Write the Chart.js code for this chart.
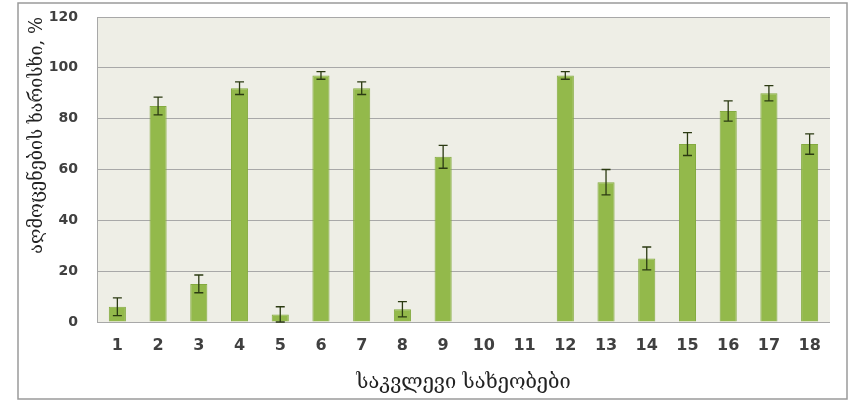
<!DOCTYPE html>
<html>
<head>
<meta charset="utf-8">
<script src="https://cdn.jsdelivr.net/npm/chart.js@4"></script>
<style>
  html, body { margin: 0; padding: 0; background: #ffffff; }
  #wrap { width: 852px; height: 401px; position: relative; }
</style>
</head>
<body>
<div id="wrap"><canvas id="c"></canvas></div>
<script>
// species numbers on the x axis
const species = ['1','2','3','4','5','6','7','8','9','10','11','12','13','14','15','16','17','18'];
// germination rate, %
const germination = [6, 85, 15, 92, 3, 97, 92, 5, 65, 0, 0, 97, 55, 25, 70, 83, 90, 70];
// standard error for each species, %
const errors = [3.5, 3.5, 3.5, 2.5, 3, 1.5, 2.5, 3, 4.5, 0, 0, 1.5, 5, 4.5, 4.5, 4, 3, 4];
// value axis ticks
const yTicks = [0, 20, 40, 60, 80, 100, 120];

const yTitle = 'აღმოცენების ხარისხი, %';
const xTitle = 'საკვლევი სახეობები';

// grey plot background
const plotBackground = {
  id: 'plotBackground',
  beforeDraw(chart) {
    const { ctx, chartArea: a } = chart;
    ctx.save();
    ctx.fillStyle = '#eeeee6';
    ctx.fillRect(a.left, a.top, a.right - a.left, a.bottom - a.top);
    ctx.restore();
  }
};

// error bars with caps, placed through the chart's scales
const errorBars = {
  id: 'errorBars',
  afterDatasetsDraw(chart) {
    const { ctx } = chart;
    const meta = chart.getDatasetMeta(0);
    const y = chart.scales.y;
    ctx.save();
    ctx.strokeStyle = '#2b3a12';
    ctx.lineWidth = 1.3;
    meta.data.forEach((bar, i) => {
      const v = germination[i], e = errors[i];
      if (!e) return;
      const x = bar.x;
      const yTop = y.getPixelForValue(v + e);
      const yBot = y.getPixelForValue(Math.max(0, v - e));
      ctx.beginPath();
      ctx.moveTo(x, yTop); ctx.lineTo(x, yBot);
      ctx.moveTo(x - 4.5, yTop); ctx.lineTo(x + 4.5, yTop);
      ctx.moveTo(x - 4.5, yBot); ctx.lineTo(x + 4.5, yBot);
      ctx.stroke();
    });
    ctx.restore();
  }
};

// thin frame around the whole chart
const outerFrame = {
  id: 'outerFrame',
  afterDraw(chart) {
    const { ctx } = chart;
    ctx.save();
    ctx.strokeStyle = '#9a9a9a';
    ctx.lineWidth = 1.5;
    ctx.strokeRect(18, 3, 829, 396);
    ctx.restore();
  }
};

new Chart(document.getElementById('c'), {
  type: 'bar',
  data: {
    labels: species,
    datasets: [{
      data: germination,
      backgroundColor: '#93b94b',
      borderColor: '#84aa40',
      borderWidth: 1,
      categoryPercentage: 1,
      barPercentage: 0.42
    }]
  },
  options: {
    responsive: true,
    maintainAspectRatio: false,
    animation: false,
    devicePixelRatio: 1,
    layout: { padding: { left: 18, right: 22, top: 17, bottom: 2 } },
    plugins: { legend: { display: false }, tooltip: { enabled: false } },
    scales: {
      x: {
        grid: { display: false, drawTicks: false },
        border: { display: false },
        ticks: {
          color: '#404040',
          font: { family: 'DejaVu Sans', size: 16, weight: 'bold' },
          padding: 14,
          maxRotation: 0
        },
        title: {
          display: true,
          text: xTitle,
          color: '#222222',
          font: { family: 'DejaVu Serif', size: 20 },
          padding: { top: 0, bottom: 4 }
        },
        afterFit(scale) { scale.height = 77; }
      },
      y: {
        min: 0,
        max: 120,
        afterBuildTicks(scale) { scale.ticks = yTicks.map(v => ({ value: v })); },
        grid: { color: '#a8a8a8', lineWidth: 1, drawTicks: true, tickLength: 16, tickColor: 'rgba(0,0,0,0)' },
        border: { display: true, color: '#a8a8a8' },
        ticks: {
          color: '#404040',
          font: { family: 'DejaVu Sans', size: 14, weight: 'bold' },
          padding: 3
        },
        title: {
          display: true,
          text: yTitle,
          align: 'end',
          color: '#222222',
          font: { family: 'DejaVu Serif', size: 18 },
          padding: { top: 9, bottom: 0 }
        },
        afterFit(scale) { scale.width = 79; }
      }
    }
  },
  plugins: [plotBackground, errorBars, outerFrame]
});
</script>
</body>
</html>
